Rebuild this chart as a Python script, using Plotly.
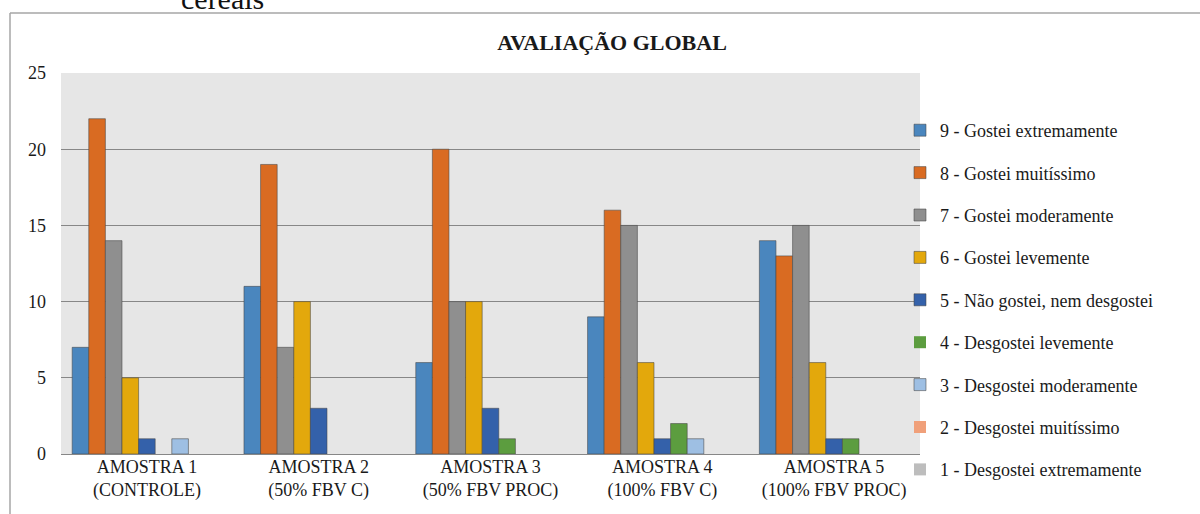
import plotly.graph_objects as go

# Sensory acceptance counts per hedonic score for each sample
amostras = [
    "AMOSTRA 1<br>(CONTROLE)",
    "AMOSTRA 2<br>(50% FBV C)",
    "AMOSTRA 3<br>(50% FBV PROC)",
    "AMOSTRA 4<br>(100% FBV C)",
    "AMOSTRA 5<br>(100% FBV PROC)",
]

escala = [
    "9 - Gostei extremamente",
    "8 - Gostei muitíssimo",
    "7 - Gostei moderamente",
    "6 - Gostei levemente",
    "5 - Não gostei, nem desgostei",
    "4 - Desgostei levemente",
    "3 - Desgostei moderamente",
    "2 - Desgostei muitíssimo",
    "1 - Desgostei extremamente",
]

nota_9 = [7, 11, 6, 9, 14]
nota_8 = [22, 19, 20, 16, 13]
nota_7 = [14, 7, 10, 15, 15]
nota_6 = [5, 10, 10, 6, 6]
nota_5 = [1, 3, 3, 1, 1]
nota_4 = [0, 0, 1, 2, 1]
nota_3 = [1, 0, 0, 1, 0]
nota_2 = [0, 0, 0, 0, 0]
nota_1 = [0, 0, 0, 0, 0]

series = [nota_9, nota_8, nota_7, nota_6, nota_5, nota_4, nota_3, nota_2, nota_1]

cores = [
    "#4A86BE", "#D96B22", "#8F8F8F", "#E3A80C", "#3461AA",
    "#5C9D3F", "#9EBFE3", "#F0A07A", "#BDBDBD",
]

SERIF = "'Times New Roman', 'Liberation Serif', 'DejaVu Serif', serif"
TXT = "#1a1a1a"

fig = go.Figure()
for i, (nome, valores, cor) in enumerate(zip(escala, series, cores)):
    fig.add_trace(go.Bar(
        x=amostras, y=valores, name=nome,
        legendgroup=f"g{i}",
        marker=dict(
            color=cor,
            # no outline on empty bars so the baseline stays clean
            line=dict(color="rgba(70,70,70,0.55)",
                      width=[1 if v > 0 else 0 for v in valores]),
        ),
    ))

# plot area in pixels
L, R, T, B = 61, 920, 73, 454
W, H = 1200, 514
pw, ph = R - L, B - T

def px_x(x):
    return (x - L) / pw

def px_y(y):
    return (B - y) / ph

fig.update_layout(
    width=W, height=H,
    margin=dict(l=L, r=W - R, t=T, b=H - B, pad=0),
    paper_bgcolor="white",
    plot_bgcolor="#E6E6E6",
    barmode="group",
    bargap=0.13,
    bargroupgap=0,
    font=dict(family=SERIF, size=18, color=TXT),
    showlegend=True,
    legend=dict(
        x=px_x(900), y=px_y(112), xanchor="left", yanchor="top",
        traceorder="grouped", tracegroupgap=16,
        font=dict(family=SERIF, size=18, color=TXT),
        bgcolor="rgba(0,0,0,0)", itemwidth=30,
    ),
    title=dict(
        text="<b>AVALIAÇÃO GLOBAL</b>",
        x=612 / W, xanchor="center",
        y=1 - 42 / H, yanchor="middle",
        font=dict(family=SERIF, size=22, color=TXT),
    ),
    xaxis=dict(
        showgrid=False, showline=False, zeroline=False, ticks="",
        tickfont=dict(family=SERIF, size=18, color=TXT),
    ),
    yaxis=dict(
        range=[0, 25], tickvals=[0, 5, 10, 15, 20, 25],
        showgrid=True, gridcolor="#878787", gridwidth=1,
        zeroline=True, zerolinecolor="#878787", zerolinewidth=1,
        showline=False, ticks="", ticklabelstandoff=14,
        tickfont=dict(family=SERIF, size=18, color=TXT),
    ),
    shapes=[
        # outer chart frame (left and top edges)
        dict(type="line", xref="paper", yref="paper",
             x0=px_x(10), x1=px_x(10), y0=px_y(13), y1=px_y(530),
             line=dict(color="#A6A6A6", width=1.5)),
        dict(type="line", xref="paper", yref="paper",
             x0=px_x(10), x1=px_x(1210), y0=px_y(13), y1=px_y(13),
             line=dict(color="#A6A6A6", width=1.5)),
    ],
    annotations=[
        dict(text="cereais", xref="paper", yref="paper",
             x=px_x(222), y=px_y(-1), xanchor="center", yanchor="middle",
             showarrow=False, font=dict(family=SERIF, size=30, color="#111")),
    ],
)

fig.write_html("out.html")
